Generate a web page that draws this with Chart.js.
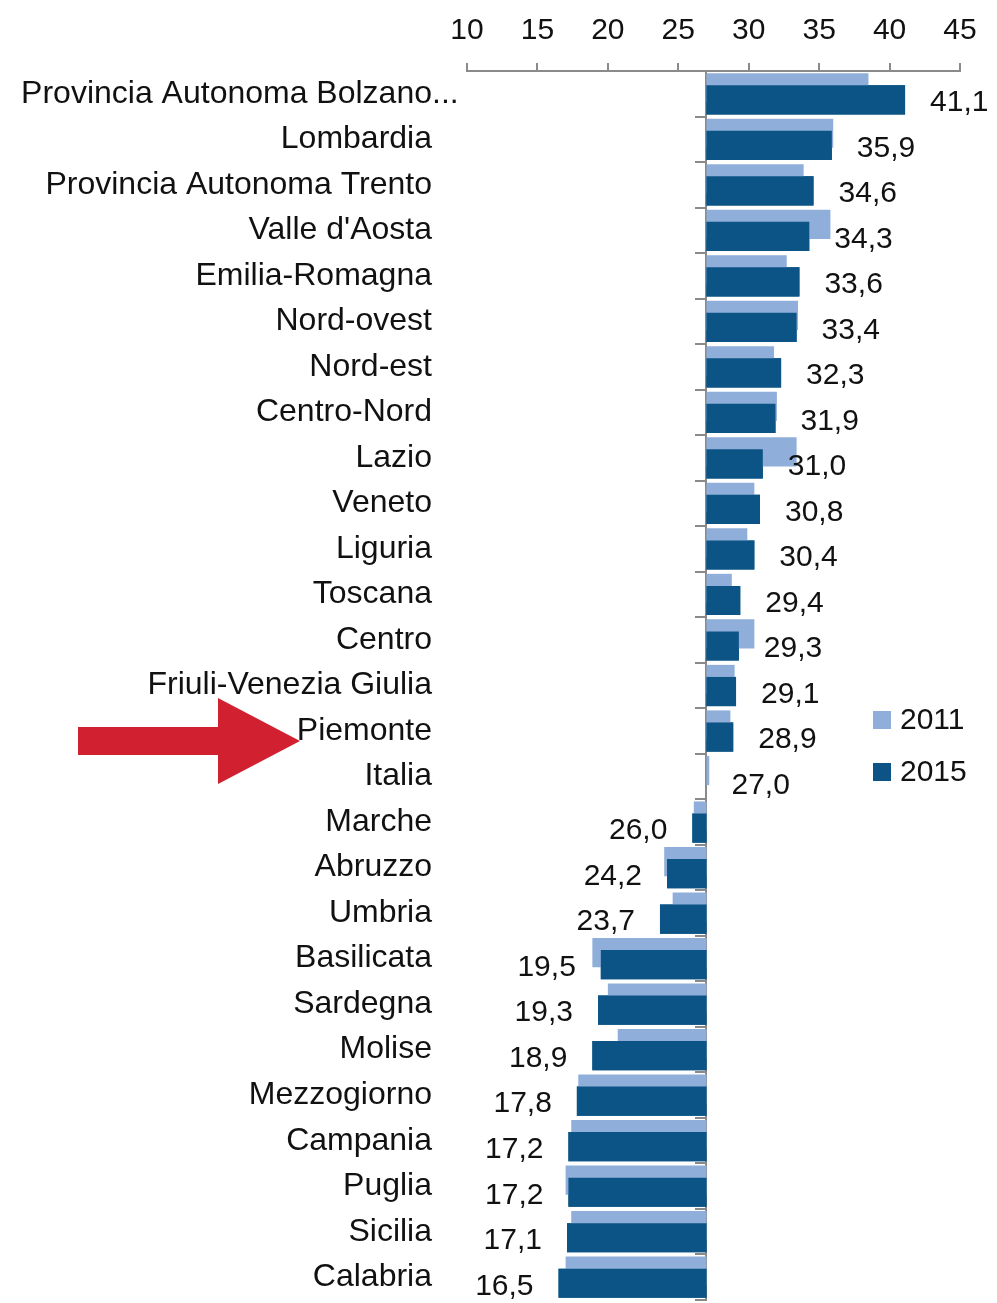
<!DOCTYPE html>
<html>
<head>
<meta charset="utf-8">
<script src="https://cdn.jsdelivr.net/npm/chart.js@4.4.1/dist/chart.umd.min.js"></script>
<style>
  html, body { margin: 0; padding: 0; background: #fff; }
  #wrap { width: 997px; height: 1303px; position: relative; }
</style>
</head>
<body>
<div id="wrap"><canvas id="chart"></canvas></div>
<script>
// regioni (ordinate per valore 2015)
const categories = [
    'Provincia Autonoma Bolzano...', 'Lombardia', 'Provincia Autonoma Trento', "Valle d'Aosta",
    'Emilia-Romagna', 'Nord-ovest', 'Nord-est', 'Centro-Nord', 'Lazio', 'Veneto', 'Liguria',
    'Toscana', 'Centro', 'Friuli-Venezia Giulia', 'Piemonte', 'Italia', 'Marche', 'Abruzzo',
    'Umbria', 'Basilicata', 'Sardegna', 'Molise', 'Mezzogiorno', 'Campania', 'Puglia',
    'Sicilia', 'Calabria'
];

const values2011 = [38.5, 36.0, 33.9, 35.8, 32.7, 33.5, 31.8, 32.0, 33.4, 30.4, 29.9, 28.8, 30.4, 29.0,
    28.7, 27.2, 26.1, 24.0, 24.6, 18.9, 20.0, 20.7, 17.9, 17.4, 17.0, 17.4, 17.0];

const values2015 = [41.1, 35.9, 34.6, 34.3, 33.6, 33.4, 32.3, 31.9, 31.0, 30.8, 30.4, 29.4, 29.3, 29.1,
    28.9, 27.0, 26.0, 24.2, 23.7, 19.5, 19.3, 18.9, 17.8, 17.2, 17.2, 17.1, 16.5];

const seriesLabels = ['2011', '2015'];
const xTicks = [10, 15, 20, 25, 30, 35, 40, 45];
const baseValue = 27.0; // valore Italia 2015, le barre partono da qui
const highlight = 'Piemonte';

const FONT = '"Liberation Sans Narrow", "Arial Narrow", "Liberation Sans", Arial, sans-serif';
const LIGHT = '#8fafda';
const DARK = '#0b5485';
const AXIS = '#8a8a8a';
const LABEL_PAD = 35;

// etichette valori, legenda e freccia
const extrasPlugin = {
    id: 'extras',
    afterDatasetsDraw(chart) {
        const ctx = chart.ctx;
        const meta = chart.getDatasetMeta(1);

        // le barre 2015 vanno sopra quelle 2011
        meta.data.forEach(function(bar) { bar.draw(ctx); });

        ctx.save();
        ctx.font = '30px ' + FONT;
        ctx.fillStyle = '#111';
        ctx.textBaseline = 'middle';
        meta.data.forEach(function(bar, i) {
            const v = values2015[i];
            const txt = v.toFixed(1).replace('.', ',');
            if (v >= baseValue) {
                ctx.textAlign = 'left';
                ctx.fillText(txt, bar.x + 25, bar.y + 3);
            } else {
                ctx.textAlign = 'right';
                ctx.fillText(txt, bar.x - 25, bar.y + 3);
            }
        });

        // legenda
        const colors = [LIGHT, DARK];
        ctx.textAlign = 'left';
        seriesLabels.forEach(function(lbl, i) {
            const y = 720 + i * 52;
            ctx.fillStyle = colors[i];
            ctx.fillRect(873, y - 9, 18, 18);
            ctx.fillStyle = '#111';
            ctx.fillText(lbl, 900, y + 1);
        });

        // puntini dopo le etichette troncate (sporgono a destra)
        const yScale = chart.scales.y;
        ctx.font = '32px ' + FONT;
        categories.forEach(function(c, i) {
            if (c.endsWith('...')) {
                ctx.fillText('...', yScale.right - LABEL_PAD, yScale.getPixelForValue(i));
            }
        });

        // freccia rossa verso Piemonte
        const cy = yScale.getPixelForValue(categories.indexOf(highlight)) + 10;
        ctx.fillStyle = '#d12131';
        ctx.beginPath();
        ctx.moveTo(78, cy - 14);
        ctx.lineTo(218, cy - 14);
        ctx.lineTo(218, cy - 43);
        ctx.lineTo(300, cy);
        ctx.lineTo(218, cy + 43);
        ctx.lineTo(218, cy + 14);
        ctx.lineTo(78, cy + 14);
        ctx.closePath();
        ctx.fill();
        ctx.restore();
    }
};

const chartData = {
    labels: categories,
    datasets: [
        {
            label: seriesLabels[0],
            data: values2011,
            backgroundColor: LIGHT,
            base: baseValue,
            barPercentage: 2.42,
            categoryPercentage: 0.53
        },
        {
            label: seriesLabels[1],
            data: values2015,
            backgroundColor: DARK,
            base: baseValue,
            barPercentage: 2.42,
            categoryPercentage: 0.53
        }
    ]
};

const config = {
    type: 'bar',
    data: chartData,
    options: {
        indexAxis: 'y',
        responsive: true,
        maintainAspectRatio: false,
        animation: false,
        layout: { padding: { left: 0, right: 37, top: 0, bottom: 3 } },
        plugins: {
            legend: { display: false },
            tooltip: { enabled: false }
        },
        scales: {
            x: {
                position: 'top',
                min: 10,
                max: 45,
                afterBuildTicks: function(scale) {
                    scale.ticks = xTicks.map(function(v) { return { value: v }; });
                },
                afterFit: function(scale) { scale.height = 71; },
                grid: {
                    drawOnChartArea: false,
                    drawTicks: true,
                    tickLength: 8,
                    color: AXIS,
                    lineWidth: 2
                },
                border: { display: true, color: AXIS, width: 2 },
                ticks: {
                    color: '#111',
                    padding: 14,
                    font: { family: FONT, size: 30 }
                }
            },
            y: {
                position: 'left',
                afterFit: function(scale) {
                    scale.width = 467;
                    scale.paddingTop = 0;
                    scale.paddingBottom = 0;
                },
                grid: { display: false, drawTicks: false },
                border: { display: false },
                ticks: {
                    autoSkip: false,
                    color: '#111',
                    padding: LABEL_PAD,
                    font: { family: FONT, size: 32 },
                    callback: function(value) {
                        const l = this.getLabelForValue(value);
                        return l.endsWith('...') ? l.slice(0, -3) : l;
                    }
                }
            },
            // linea di base a 27 con le tacche
            y2: {
                type: 'category',
                axis: 'y',
                position: { x: baseValue },
                offset: true,
                ticks: { display: false },
                grid: {
                    display: true,
                    offset: true,
                    drawOnChartArea: false,
                    drawTicks: true,
                    tickLength: 10,
                    color: AXIS,
                    lineWidth: 2
                },
                border: { display: true, color: AXIS, width: 2 }
            }
        }
    },
    plugins: [extrasPlugin]
};

const ctx1 = document.getElementById('chart');
const chart1 = new Chart(ctx1, config);
</script>
</body>
</html>
